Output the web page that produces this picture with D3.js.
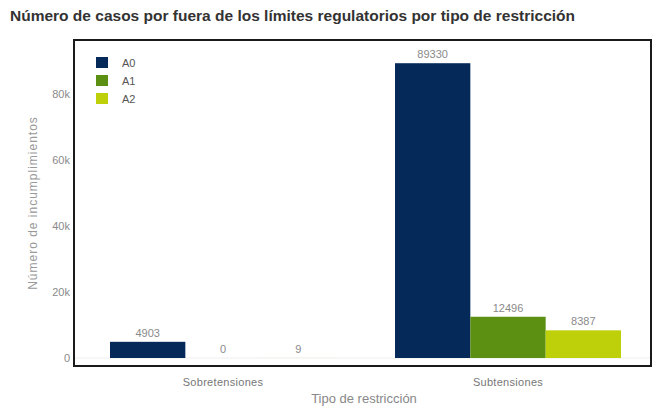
<!DOCTYPE html>
<html><head><meta charset="utf-8">
<script src="https://cdn.jsdelivr.net/npm/d3@7"></script>
<style>body{margin:0;background:#fff;}svg{display:block;font-family:"Liberation Sans",Arial,sans-serif;}</style>
</head><body>
<svg id="c" width="652" height="408"></svg>
<script>
const categories = ["Sobretensiones", "Subtensiones"];
const seriesNames = ["A0", "A1", "A2"];
const A0 = [4903, 89330];
const A1 = [0, 12496];
const A2 = [9, 8387];
const yTicks = [0, 20000, 40000, 60000, 80000];
const yTickLabels = ["0", "20k", "40k", "60k", "80k"];
const colors = ["#052a5a", "#5b9012", "#bdd00a"];

const series = [A0, A1, A2];
const svg = d3.select("#c");
const L = 74, R = 651, T = 40, B = 366;

const x0 = d3.scaleBand().domain(categories).range([77.5, 653.5]).paddingInner(0.207).paddingOuter(0.114);
const x1 = d3.scaleBand().domain(seriesNames).range([0, x0.bandwidth()]).padding(0);
const y = d3.scaleLinear().domain([-2424, 96364]).range([B, T]);

// zero line
svg.append("line").attr("x1", L).attr("x2", R).attr("y1", y(0)).attr("y2", y(0))
  .attr("stroke", "#eeeeee").attr("stroke-width", 1);

// bars
categories.forEach((c, ci) => {
  series.forEach((s, si) => {
    const v = s[ci];
    const bx = x0(c) + x1(seriesNames[si]);
    svg.append("rect").attr("x", bx).attr("width", x1.bandwidth())
      .attr("y", y(v)).attr("height", y(0) - y(v)).attr("fill", colors[si]);
    svg.append("text").attr("x", bx + x1.bandwidth() / 2).attr("y", y(v) - 5)
      .attr("text-anchor", "middle").attr("font-size", 11).attr("fill", "#8a8a8a")
      .text(v);
  });
});

// frame
svg.append("rect").attr("x", L).attr("y", T).attr("width", R - L).attr("height", B - T)
  .attr("fill", "none").attr("stroke", "#1a1a1a").attr("stroke-width", 2);

// y ticks
const yAxis = d3.axisLeft(y).tickValues(yTicks).tickFormat((d, i) => yTickLabels[i]).tickSize(0).tickPadding(4);
const gy = svg.append("g").attr("transform", `translate(${L},0)`).call(yAxis);
gy.select(".domain").remove();
gy.selectAll("text").attr("font-size", 11).attr("fill", "#8a8a8a").attr("font-family", "Liberation Sans, Arial, sans-serif");

// x ticks
const xAxis = d3.axisBottom(x0).tickSize(0).tickPadding(12);
const gx = svg.append("g").attr("transform", `translate(0,${B})`).call(xAxis);
gx.select(".domain").remove();
gx.selectAll("text").attr("font-size", 11).attr("fill", "#777").attr("letter-spacing", "0.3px").attr("font-family", "Liberation Sans, Arial, sans-serif");

// axis titles
svg.append("text").attr("x", 364).attr("y", 403).attr("text-anchor", "middle")
  .attr("font-size", 13).attr("fill", "#888").text("Tipo de restricción");
svg.append("text").attr("transform", `translate(37,${(T + B) / 2}) rotate(-90)`)
  .attr("text-anchor", "middle").attr("font-size", 12).attr("fill", "#999")
  .attr("letter-spacing", "1px").text("Número de incumplimientos");

// title
svg.append("text").attr("x", 10).attr("y", 21).attr("font-size", 15.5).attr("font-weight", "bold")
  .attr("fill", "#333").text("Número de casos por fuera de los límites regulatorios por tipo de restricción");

// legend
const lg = svg.append("g");
seriesNames.forEach((n, i) => {
  lg.append("rect").attr("x", 96).attr("y", 57 + i * 18).attr("width", 12).attr("height", 11).attr("fill", colors[i]);
  lg.append("text").attr("x", 122).attr("y", 66.5 + i * 18).attr("font-size", 11).attr("fill", "#555").text(n);
});
</script>
</body></html>
